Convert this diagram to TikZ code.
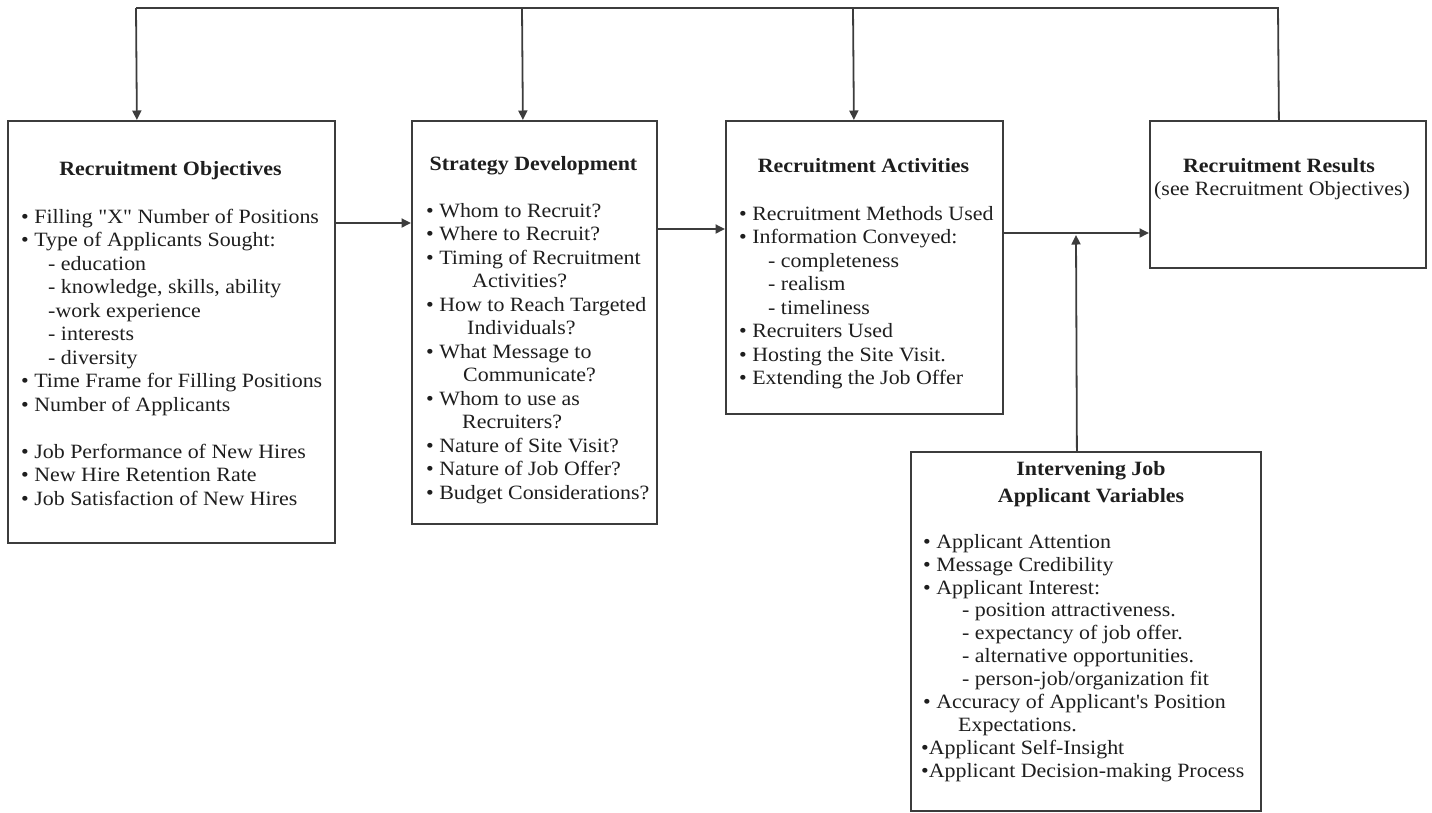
\documentclass[tikz,border=0pt]{standalone}
\usepackage{fontspec}
% a family without TeX ligatures keeps straight quotes and apostrophes
\newfontfamily\txtfont{Liberation Serif}[FakeStretch=1.08]
\usetikzlibrary{arrows.meta}
\definecolor{linegray}{HTML}{3C3C3C}
\definecolor{inkgray}{HTML}{1E1E1E}
\begin{document}
\begin{tikzpicture}[x=1pt,y=-1pt,
  box/.style={draw=linegray,line width=1.8pt,rectangle,inner sep=0pt,anchor=north west},
  link/.style={draw=linegray,line width=1.8pt,-{Triangle[length=9.5pt,width=9pt]}},
  plain/.style={draw=linegray,line width=1.8pt},
  ttl/.style={font=\txtfont\fontsize{20.3}{23.5}\selectfont\bfseries,text=inkgray,inner sep=0pt,anchor=base},
  sub/.style={font=\txtfont\fontsize{20.3}{23.5}\selectfont,text=inkgray,inner sep=0pt,anchor=base},
  lst/.style={font=\txtfont\fontsize{20.3}{23.5}\selectfont,text=inkgray,inner sep=0pt,anchor=north west,align=left},
  lstb/.style={font=\txtfont\fontsize{20.3}{22.9}\selectfont,text=inkgray,inner sep=0pt,anchor=north west,align=left}]
\useasboundingbox (0,0) rectangle (1432,812);

% the five boxes
\node[box,minimum width=327pt,minimum height=422pt] (obj) at (7,120) {};
\node[box,minimum width=245pt,minimum height=403pt] (str) at (411,120) {};
\node[box,minimum width=277pt,minimum height=293pt] (act) at (725,120) {};
\node[box,minimum width=276pt,minimum height=147pt] (res) at (1149,120) {};
\node[box,minimum width=350pt,minimum height=359pt] (ivar) at (910,451) {};

% Recruitment Objectives
\node[ttl] (objT) at (170.5,175) {Recruitment Objectives};
\node[lst] (objL) at (21,206.5) {\strut• Filling "X" Number of Positions\\
• Type of Applicants Sought:\\
\hspace*{27pt}- education\\
\hspace*{27pt}- knowledge, skills, ability\\
\hspace*{27pt}-work experience\\
\hspace*{27pt}- interests\\
\hspace*{27pt}- diversity\\
• Time Frame for Filling Positions\\
• Number of Applicants\\
\strut\\
• Job Performance of New Hires\\
• New Hire Retention Rate\\
• Job Satisfaction of New Hires};

% Strategy Development
\node[ttl] (strT) at (533.5,170) {Strategy Development};
\node[lst] (strL) at (426,200.5) {\strut• Whom to Recruit?\\
• Where to Recruit?\\
• Timing of Recruitment\\
\hspace*{46pt}Activities?\\
• How to Reach Targeted\\
\hspace*{41pt}Individuals?\\
• What Message to\\
\hspace*{37pt}Communicate?\\
• Whom to use as\\
\hspace*{36pt}Recruiters?\\
• Nature of Site Visit?\\
• Nature of Job Offer?\\
• Budget Considerations?};

% Recruitment Activities
\node[ttl] (actT) at (863.5,172) {Recruitment Activities};
\node[lst] (actL) at (739,203.5) {\strut• Recruitment Methods Used\\
• Information Conveyed:\\
\hspace*{29pt}- completeness\\
\hspace*{29pt}- realism\\
\hspace*{29pt}- timeliness\\
• Recruiters Used\\
• Hosting the Site Visit.\\
• Extending the Job Offer};

% Recruitment Results
\node[ttl] (resT) at (1279,172) {Recruitment Results};
\node[sub] (resS) at (1282,195) {(see Recruitment Objectives)};

% Intervening Job Applicant Variables
\node[font=\txtfont\fontsize{20.3}{27}\selectfont\bfseries,text=inkgray,inner sep=0pt,anchor=north,align=center] (ivarT) at (1091,456.1) {\strut Intervening Job\\Applicant Variables};
\node[lstb] (ivarL) at (923,532) {\strut• Applicant Attention\\
• Message Credibility\\
• Applicant Interest:\\
\hspace*{39pt}- position attractiveness.\\
\hspace*{39pt}- expectancy of job offer.\\
\hspace*{39pt}- alternative opportunities.\\
\hspace*{39pt}- person-job/organization fit\\
• Accuracy of Applicant's Position\\
\hspace*{35pt}Expectations.\\
\hspace*{-2pt}•Applicant Self-Insight\\
\hspace*{-2pt}•Applicant Decision-making Process};

% forward flow
\draw[link] ([yshift=-103pt]obj.north east) -- ([yshift=-103pt]str.north west);
\draw[link] ([yshift=-109pt]str.north east) -- ([yshift=-109pt]act.north west);
\draw[link] ([yshift=-113pt]act.north east) -- ([yshift=-113pt]res.north west);

% intervening variables feed into the activities-results link
\coordinate (jn) at (1076,235);
\draw[link] ([xshift=-9pt]ivar.north) -- (jn);

% feedback loop along the top
\coordinate (tr) at (1278,8);
\coordinate (tl) at (136,8);
\coordinate (tm1) at (522,8);
\coordinate (tm2) at (853,8);
\draw[plain] ([xshift=-9pt]res.north) -- (tr) -- (tl);
\draw[link] (tl) -- ([xshift=-34.5pt]obj.north);
\draw[link] (tm1) -- ([xshift=-11.5pt]str.north);
\draw[link] (tm2) -- ([xshift=-10.5pt]act.north);
\end{tikzpicture}
\end{document}
